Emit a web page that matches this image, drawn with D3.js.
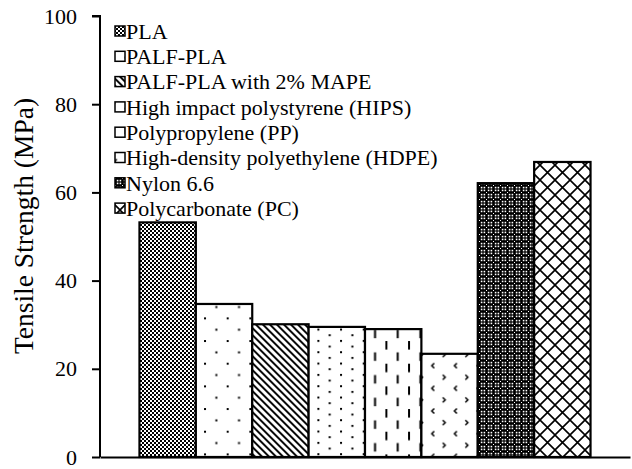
<!DOCTYPE html>
<html><head><meta charset="utf-8">
<script src="https://cdn.jsdelivr.net/npm/d3@7"></script>
<style>html,body{margin:0;padding:0;background:#fff;}svg{display:block;}</style>
</head><body>
<svg id="chart" width="632" height="469"></svg>
<script>
const categories = ["PLA","PALF-PLA","PALF-PLA with 2% MAPE","High impact polystyrene (HIPS)","Polypropylene (PP)","High-density polyethylene (HDPE)","Nylon 6.6","Polycarbonate (PC)"];
const values = [53.2, 34.7, 30.1, 29.5, 29.0, 23.4, 62.1, 66.9];
const yTicks = [0, 20, 40, 60, 80, 100];
const yLabel = "Tensile Strength (MPa)";
const patternIds = ["pPLA","pPALF","pMAPE","pHIPS","pPP","pHDPE","pNylon","pPC"];

const svg = d3.select("#chart");
const FONT = "'Liberation Serif','Times New Roman',serif";
const defs = svg.append("defs");
function pat(id, w, h, bg, draw, transform){
  const p = defs.append("pattern").attr("id", id).attr("patternUnits","userSpaceOnUse")
    .attr("width", w).attr("height", h);
  if (transform) p.attr("patternTransform", transform);
  p.append("rect").attr("width", w).attr("height", h).attr("fill", bg);
  draw(p);
}
const blk = "#000";
function sq(p, x0, y0, w, h, c){ p.append("rect").attr("x",x0).attr("y",y0).attr("width",w).attr("height",h).attr("fill",c); }
pat("pPLA", 4, 4, "#fff", p => { sq(p,0,0,2,2,blk); sq(p,2,2,2,2,blk); });
pat("pPALF", 22.67, 22.67, "#fff", p => { sq(p,0,0,2,2,blk); sq(p,11.33,11.33,2,2,blk); });
pat("pHIPS", 22.67, 11.33, "#fff", p => { sq(p,0,0,2,2,blk); sq(p,11.33,5.67,2,2,blk); });
pat("pMAPE", 4.95, 10, "#fff", p => { sq(p,0,0,1.9,10,blk); }, "rotate(-45)");
pat("pPP", 22.67, 22.67, "#fff", p => { sq(p,0,1,2,8.5,blk); sq(p,11.33,12.33,2,8.5,blk); });
pat("pHDPE", 22.67, 22.67, "#fff", p => {
  p.append("path").attr("d","M3.5,0.5 L1,3 L3.5,5.5").attr("fill","none").attr("stroke",blk).attr("stroke-width",1.5);
  p.append("path").attr("d","M12,12 L14.5,14.5 L12,17").attr("fill","none").attr("stroke",blk).attr("stroke-width",1.5);
});
pat("pNylon", 7, 7, "#000", p => {
  sq(p,0.6,0.6,1.6,1.6,"#fff"); sq(p,4.8,0.6,1.6,1.6,"#fff");
  sq(p,0.6,4.8,1.6,1.6,"#fff"); sq(p,4.8,4.8,1.6,1.6,"#fff");
  sq(p,3,3,1,1,"#fff");
});
pat("pPC", 15, 15, "#fff", p => {
  p.append("path").attr("d","M0,0 L15,15 M15,0 L0,15 M-1,14 L1,16 M14,-1 L16,1").attr("stroke",blk).attr("stroke-width",1.6);
});

const y = d3.scaleLinear().domain([0, 100]).range([457, 16]);
const x = d3.scaleBand().domain(categories).range([100, 630]).paddingInner(0).paddingOuter(0.7);

// bars
svg.append("g").selectAll("rect").data(categories).join("rect")
  .attr("x", d => x(d))
  .attr("y", (d,i) => y(values[i]))
  .attr("width", x.bandwidth())
  .attr("height", (d,i) => y(0) - y(values[i]))
  .attr("fill", (d,i) => `url(#${patternIds[i]})`)
  .attr("stroke", "#000").attr("stroke-width", 2.2);

// y axis
const yAxis = svg.append("g").attr("transform","translate(100,0)")
  .call(d3.axisLeft(y).tickValues(yTicks).tickSize(8).tickPadding(15).tickFormat(d3.format("d")));
yAxis.select(".domain").attr("stroke","#000").attr("stroke-width",2).attr("d", `M-8,${y(100)}H0V${y(0)}`);
yAxis.selectAll(".tick line").attr("stroke","#000").attr("stroke-width",2);
yAxis.selectAll(".tick text").attr("font-family", FONT).attr("font-size", 22).attr("fill","#000");

// x axis baseline
const xAxis = svg.append("g").attr("transform", `translate(0,${y(0)})`)
  .call(d3.axisBottom(x).tickSize(0).tickFormat(""));
xAxis.select(".domain").attr("stroke","#000").attr("stroke-width",2);

// y label
svg.append("text").attr("transform", `translate(33,226) rotate(-90)`)
  .attr("text-anchor","middle").attr("font-family", FONT).attr("font-size", 27.5).attr("fill","#000")
  .text(yLabel);

// legend
const leg = svg.append("g");
categories.forEach((c, i) => {
  const cy = 31 + i * 25.3;
  leg.append("rect").attr("x", 115).attr("y", cy - 5).attr("width", 10).attr("height", 10)
    .attr("fill", `url(#${patternIds[i]})`).attr("stroke","#000").attr("stroke-width",1.5);
  leg.append("text").attr("x", 126).attr("y", cy).attr("dy","0.35em")
    .attr("font-family", FONT).attr("font-size", 22).attr("fill","#000").text(c);
});
</script>
</body></html>
